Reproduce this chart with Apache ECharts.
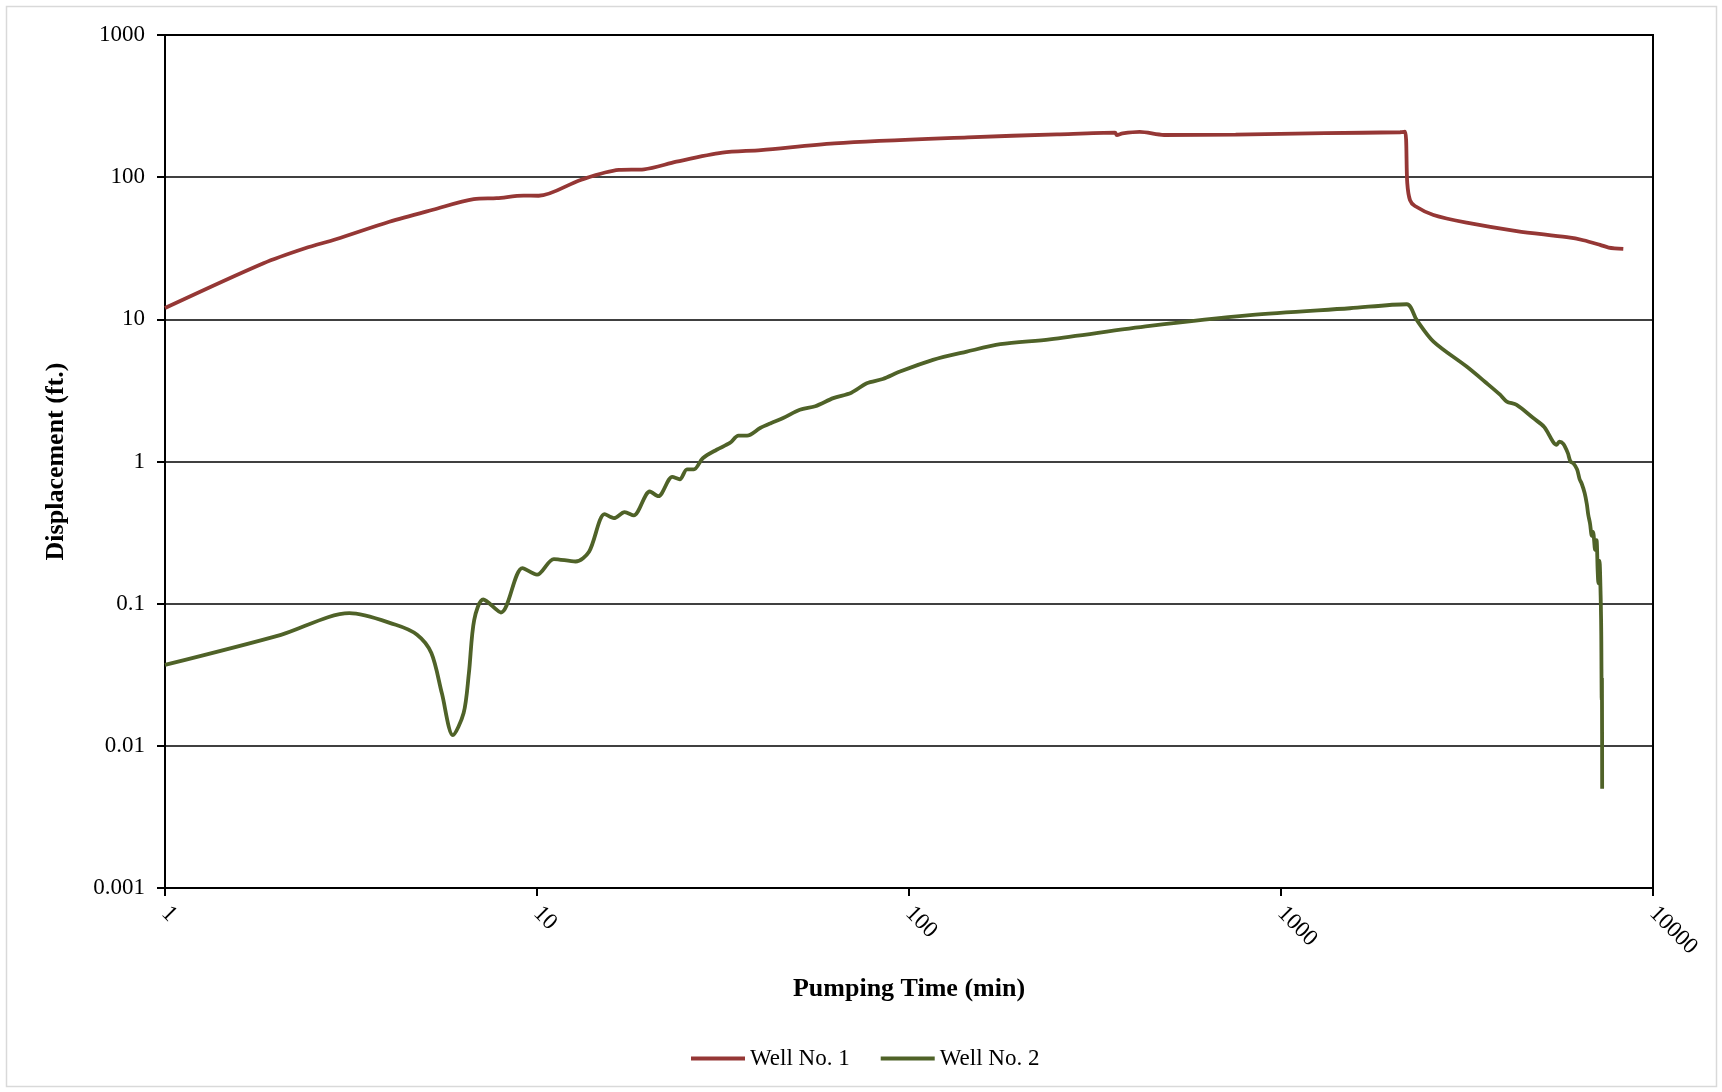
<!DOCTYPE html>
<html>
<head>
<meta charset="utf-8">
<title>Displacement vs Pumping Time</title>
<script src="https://cdn.jsdelivr.net/npm/echarts@6/dist/echarts.min.js"></script>
<style>
  html, body { margin: 0; padding: 0; background: #fff; }
  #chart { width: 1722px; height: 1092px; }
</style>
</head>
<body>
<div id="chart"></div>
<script>
  // tick labels
  var xTickLabels = ['1', '10', '100', '1000', '10000']
  var yTickLabels = ['0.001', '0.01', '0.1', '1', '10', '100', '1000']

  // Well No. 1 - pumping time (min) and displacement (ft.)
  var well1Time = [1, 1.84, 2.38, 2.88, 4.01, 5.25, 6.76, 7.8, 9.2, 10.1, 13.1, 16.6, 19.4, 23.7, 31.5,
    40, 63, 144, 250, 358, 362, 375, 417, 485, 755, 1312, 2090, 2154, 2185, 2222, 2291, 2570,
    3155, 4300, 5865, 6500, 7210, 7600, 8320]
  var well1Disp = [12.0, 24.8, 31.6, 36.6, 48.6, 59, 70, 71.2, 74.1, 74, 95.6, 112.4, 113.6, 128.5, 148.7,
    155, 173, 190.7, 200, 205.6, 198, 203, 208, 198, 199, 204, 207, 209, 90.6, 69, 62.7, 54.2,
    47.9, 41.8, 37.8, 36, 33.4, 32, 31.3]

  // Well No. 2
  var well2Time = [1, 2.05, 3.13, 4.17, 4.76, 5.2, 5.55, 5.94, 6.35, 6.56, 6.78, 7.17, 8.0, 9.14, 10, 11.1,
    12.7, 13.8, 15.2, 16.1, 17.2, 18.2, 20.1, 21.2, 23.1, 24.2, 25.3, 26.4, 27.9, 30.4, 33, 34.8,
    36.7, 39.8, 42.5, 45.9, 50.9, 56, 62.6, 70, 77, 85, 94.6, 116, 143, 176, 239, 444, 826, 1532,
    2178, 2316, 2570, 3155, 3573, 3880, 4046, 4300, 4766, 5100, 5510, 5600, 5740, 5900, 6000, 6110,
    6250, 6350, 6430, 6550, 6640, 6700, 6770, 6850, 6900, 6990, 7050, 7100, 7130, 7180, 7240,
    7260, 7280, 7290, 7300]
  var well2Disp = [0.0371, 0.0604, 0.0857, 0.071, 0.0604, 0.0449, 0.0234, 0.0119, 0.017, 0.0324, 0.077,
    0.107, 0.0867, 0.178, 0.16, 0.206, 0.198, 0.232, 0.426, 0.40, 0.44, 0.418, 0.615, 0.57, 0.78,
    0.75, 0.88, 0.88, 1.055, 1.21, 1.35, 1.52, 1.52, 1.72, 1.86, 2.02, 2.31, 2.45, 2.79, 3.05, 3.55,
    3.8, 4.29, 5.19, 5.93, 6.68, 7.24, 8.99, 10.7, 11.97, 12.77, 9.9, 6.97, 4.65, 3.55, 2.95, 2.64,
    2.50, 2.02, 1.75, 1.31, 1.38, 1.33, 1.15, 1.0, 0.97, 0.88, 0.75, 0.70, 0.6, 0.5, 0.42, 0.368,
    0.3, 0.32, 0.239, 0.28, 0.17, 0.139, 0.2, 0.1, 0.06, 0.021, 0.03, 0.005]

  function pairs(t, v) {
    var out = []
    for (var i = 0; i < t.length; i++) out.push([t[i], v[i]])
    return out
  }

  function logLabel(list) {
    return function (val) {
      var i = Math.round(Math.log10(val))
      var base = Math.round(Math.log10(Number(list[0])))
      return list[i - base] || ''
    }
  }

  var serif = '"Liberation Serif", "Times New Roman", serif'
  var chart = echarts.init(document.getElementById('chart'))

  chart.setOption({
    backgroundColor: '#fff',
    animation: false,
    graphic: [{
      type: 'rect',
      shape: {x: 6.5, y: 6.5, width: 1710, height: 1080},
      style: {fill: 'none', stroke: '#d9d9d9', lineWidth: 1.5},
      silent: true
    }],
    grid: {
      left: 165,
      right: 69,
      top: 35,
      bottom: 204,
      show: true,
      borderColor: '#000',
      borderWidth: 2
    },
    legend: {
      data: ['Well No. 1', 'Well No. 2'],
      left: 686,
      top: 1042,
      icon: 'rect',
      itemWidth: 54,
      itemHeight: 4,
      itemGap: 31,
      textStyle: {fontFamily: serif, fontSize: 23, color: '#000'}
    },
    xAxis: {
      type: 'log',
      logBase: 10,
      min: 1,
      max: 10000,
      name: 'Pumping Time (min)',
      nameLocation: 'middle',
      nameGap: 88,
      nameTextStyle: {fontFamily: serif, fontSize: 26, fontWeight: 'bold', color: '#000'},
      axisLine: {lineStyle: {color: '#000', width: 2}},
      axisTick: {show: true, inside: false, length: 8, lineStyle: {color: '#000', width: 2}},
      axisLabel: {
        rotate: -45,
        margin: 22,
        fontFamily: serif,
        fontSize: 23,
        color: '#000',
        formatter: logLabel(xTickLabels)
      },
      splitLine: {show: false},
      minorTick: {show: false}
    },
    yAxis: {
      type: 'log',
      logBase: 10,
      min: 0.001,
      max: 1000,
      name: 'Displacement (ft.)',
      nameLocation: 'middle',
      nameGap: 96,
      nameTextStyle: {fontFamily: serif, fontSize: 26, fontWeight: 'bold', color: '#000'},
      axisLine: {show: true, lineStyle: {color: '#000', width: 2}},
      axisTick: {show: true, inside: false, length: 8, lineStyle: {color: '#000', width: 2}},
      axisLabel: {
        margin: 20,
        fontFamily: serif,
        fontSize: 23,
        color: '#000',
        formatter: logLabel(yTickLabels)
      },
      splitLine: {show: true, lineStyle: {color: '#000', width: 1.6}}
    },
    series: [
      {
        name: 'Well No. 1',
        type: 'line',
        symbol: 'none',
        smooth: 0.3,
        color: '#953735',
        lineStyle: {color: '#953735', width: 3.8},
        data: pairs(well1Time, well1Disp)
      },
      {
        name: 'Well No. 2',
        type: 'line',
        symbol: 'none',
        smooth: 0.3,
        color: '#4F6228',
        lineStyle: {color: '#4F6228', width: 3.8},
        data: pairs(well2Time, well2Disp)
      }
    ]
  })
</script>
</body>
</html>
